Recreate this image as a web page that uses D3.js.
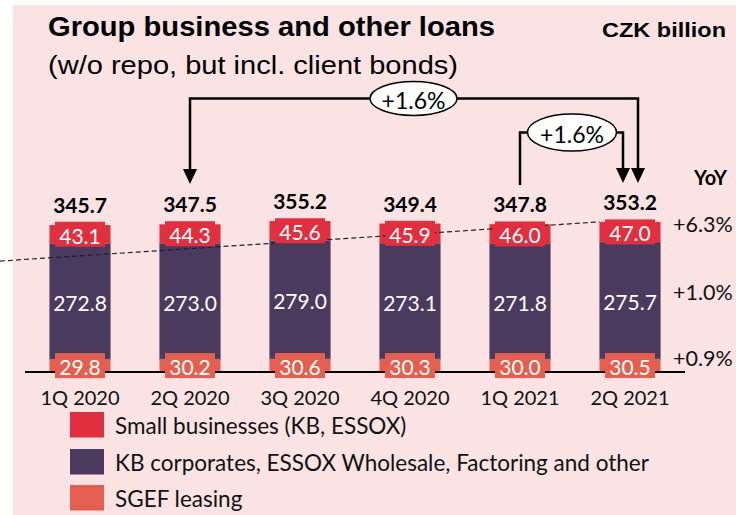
<!DOCTYPE html>
<html><head><meta charset="utf-8">
<script src="https://cdn.jsdelivr.net/npm/d3@7"></script>
<style>html,body{margin:0;padding:0;background:#fff;}svg{display:block;}</style>
</head><body>
<svg id="chart" width="736" height="515"></svg>
<script>
const categories = ["1Q 2020","2Q 2020","3Q 2020","4Q 2020","1Q 2021","2Q 2021"];
const sgef = [29.8, 30.2, 30.6, 30.3, 30.0, 30.5];
const corporates = [272.8, 273.0, 279.0, 273.1, 271.8, 275.7];
const smallBiz = [43.1, 44.3, 45.6, 45.9, 46.0, 47.0];
const totals = [345.7, 347.5, 355.2, 349.4, 347.8, 353.2];
const yoy = ["+0.9%", "+1.0%", "+6.3%"];
const seriesNames = ["Small businesses (KB, ESSOX)", "KB corporates, ESSOX Wholesale, Factoring and other", "SGEF leasing"];
const growthLabels = ["+1.6%", "+1.6%"];
const trendStart = 261;

const colors = {small:"#e0303f", corp:"#4a3a5d", sgef:"#e45f4f"};
const numFont = "Lato, 'Noto Sans', sans-serif";
const svg = d3.select("#chart");

svg.append("rect").attr("x",13).attr("y",5).attr("width",736-13).attr("height",515-5).attr("fill","#fbe3e3");

const x = d3.scaleBand().domain(categories).range([25,685]).paddingInner(0.445).paddingOuter(0.2225);
const y = d3.scaleLinear().domain([0,400]).range([372,202]);

const rows = categories.map((c,i)=>({c, segs:[
  {key:"sgef", v0:0, v1:sgef[i], val:sgef[i]},
  {key:"corp", v0:sgef[i], v1:sgef[i]+corporates[i], val:corporates[i]},
  {key:"small", v0:sgef[i]+corporates[i], v1:sgef[i]+corporates[i]+smallBiz[i], val:smallBiz[i]}
], total: totals[i]}));

// title
svg.append("text").attr("x",48).attr("y",36).attr("font-family","'Liberation Sans', Arial, sans-serif")
  .attr("font-weight","bold").attr("font-size",27).attr("textLength",447).attr("lengthAdjust","spacingAndGlyphs")
  .text("Group business and other loans");
svg.append("text").attr("x",48).attr("y",74).attr("font-family","'Liberation Sans', Arial, sans-serif")
  .attr("font-size",25).attr("textLength",410).attr("lengthAdjust","spacingAndGlyphs")
  .text("(w/o repo, but incl. client bonds)");
svg.append("text").attr("x",726).attr("y",37).attr("text-anchor","end").attr("font-family","'Liberation Sans', Arial, sans-serif")
  .attr("font-weight","bold").attr("font-size",21).attr("textLength",124).attr("lengthAdjust","spacingAndGlyphs")
  .text("CZK billion");

// bars
const g = svg.append("g");
rows.forEach(r=>{
  r.segs.forEach(s=>{
    g.append("rect").attr("x",x(r.c)).attr("width",x.bandwidth())
      .attr("y",y(s.v1)).attr("height",y(s.v0)-y(s.v1))
      .attr("fill",colors[s.key])
      .attr("stroke", s.key==="corp" ? "#8f7d9e" : "none").attr("stroke-width",0.8);
  });
});

// baseline
svg.append("line").attr("x1",25).attr("x2",685).attr("y1",y(0)).attr("y2",y(0)).attr("stroke","#000").attr("stroke-width",2);

// trend dashed line
const last = categories[categories.length-1];
svg.append("line").attr("x1",0).attr("y1",y(trendStart)).attr("x2",x(last)).attr("y2",y(totals[totals.length-1]))
  .attr("stroke","#222").attr("stroke-width",1.2).attr("stroke-dasharray","5,3");

// segment labels
rows.forEach(r=>{
  const cx = x(r.c)+x.bandwidth()/2;
  r.segs.forEach(s=>{
    const cy = (y(s.v0)+y(s.v1))/2;
    if(s.key!=="corp"){
      svg.append("rect").attr("x",cx-25).attr("y",cy-12.5).attr("width",50).attr("height",25).attr("fill",colors[s.key]);
    }
    svg.append("text").attr("x",cx).attr("y",cy+1).attr("text-anchor","middle").attr("dominant-baseline","central")
      .attr("font-family",numFont).attr("font-size",21).attr("fill","#fff").text(s.val.toFixed(1));
  });
  svg.append("text").attr("x",cx).attr("y",y(r.total)-12).attr("text-anchor","middle")
    .attr("font-family",numFont).attr("font-weight","bold").attr("font-size",21).attr("fill","#000").text(r.total.toFixed(1));
});

// x axis labels
categories.forEach(c=>{
  svg.append("text").attr("x",x(c)+x.bandwidth()/2).attr("y",405).attr("text-anchor","middle")
    .attr("font-family",numFont).attr("font-size",20).attr("fill","#111").text(c);
});

// YoY
const lastRow = rows[rows.length-1];
svg.append("text").attr("x",694).attr("y",185).attr("font-family",numFont).attr("font-weight","bold").attr("font-size",20).text("YoY");
lastRow.segs.forEach((s,i)=>{
  svg.append("text").attr("x",673).attr("y",(y(s.v0)+y(s.v1))/2-8).attr("dominant-baseline","central")
    .attr("font-family",numFont).attr("font-size",21.5).attr("fill","#111").text(yoy[i]);
});

// brackets
const c2 = x(categories[1])+x.bandwidth()/2;
const c5 = x(categories[4])+x.bandwidth()/2;
const c6 = x(last)+x.bandwidth()/2;
const arrow = (tx,ty)=>svg.append("path").attr("d",`M${tx-7},${ty-15}L${tx+7},${ty-15}L${tx},${ty}Z`).attr("fill","#000");
const lineAttrs = p=>p.attr("fill","none").attr("stroke","#000").attr("stroke-width",2.5);
const bigY = 98.5, smallY = 132.5;
lineAttrs(svg.append("path").attr("d",`M${c2},170 V${bigY} H${c6+8} V170`));
arrow(c2,184); arrow(c6+8,183);
lineAttrs(svg.append("path").attr("d",`M${c5},185 V${smallY} H${c6-7} V170`));
arrow(c6-7,183);
svg.append("ellipse").attr("cx",413.5).attr("cy",bigY).attr("rx",43.5).attr("ry",17).attr("fill","#fff").attr("stroke","#000").attr("stroke-width",1.5);
svg.append("text").attr("x",413.5).attr("y",bigY+1).attr("text-anchor","middle").attr("dominant-baseline","central")
  .attr("font-family",numFont).attr("font-size",23).text(growthLabels[0]);
svg.append("ellipse").attr("cx",572).attr("cy",smallY).attr("rx",44.5).attr("ry",18.5).attr("fill","#fff").attr("stroke","#000").attr("stroke-width",1.5);
svg.append("text").attr("x",572).attr("y",smallY+1).attr("text-anchor","middle").attr("dominant-baseline","central")
  .attr("font-family",numFont).attr("font-size",23).text(growthLabels[1]);

// legend
const legKeys = ["small","corp","sgef"];
const legY = [412,449,485];
legKeys.forEach((k,i)=>{
  svg.append("rect").attr("x",70).attr("y",legY[i]).attr("width",34).attr("height",25.5).attr("fill",colors[k]);
  svg.append("text").attr("x",115).attr("y",legY[i]+13).attr("dominant-baseline","central")
    .attr("font-family",numFont).attr("font-size",22.5).attr("fill","#111").text(seriesNames[i]);
});
</script>
</body></html>
